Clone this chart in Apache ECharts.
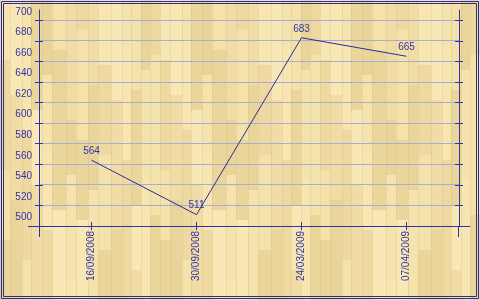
<!DOCTYPE html>
<html>
<head>
<meta charset="utf-8">
<script src="https://cdn.jsdelivr.net/npm/echarts@6/dist/echarts.min.js"></script>
<style>html,body{margin:0;padding:0;background:#f3e0a8;}#c{width:480px;height:300px;}</style>
</head>
<body>
<div id="c"></div>
<script>
const categories = ['16/09/2008', '30/09/2008', '24/03/2009', '07/04/2009'];
const values = [564, 511, 683, 665];
const yTickValues = [520, 540, 560, 580, 600, 620, 640, 660, 680, 700];
const yLabelValues = [500, 520, 540, 560, 580, 600, 620, 640, 660, 680, 700];

const BLUE = '#3232a8';
const GRID = '#a8acd8';
const FONT = 'Liberation Sans';

function makeWood() {
  const c = document.createElement('canvas');
  c.width = 160; c.height = 300;
  const g = c.getContext('2d');
  g.fillStyle = '#f1dea6';
  g.fillRect(0, 0, 160, 300);
  const shades = ['#f7e6b1', '#eedaa1', '#f4e2ab', '#ead59a', '#f8e8b5', '#f0dca4', '#e9d499', '#f5e3ad'];
  const colW = [10, 12, 9, 11, 10, 14, 10, 12, 10, 13, 11, 9, 10, 9, 10];
  const segs = [[0, 60, 170, 240], [0, 95, 200], [0, 40, 130, 260], [0, 110, 185], [0, 75, 150, 230],
                [0, 50, 210], [0, 120, 175, 280], [0, 30, 140, 220], [0, 85, 190], [0, 65, 155, 250],
                [0, 100, 230], [0, 45, 160], [0, 90, 205, 270], [0, 70, 180], [0, 55, 215]];
  let x = 0, k = 0;
  colW.forEach((w, i) => {
    const s = segs[i];
    for (let j = 0; j < s.length; j++) {
      const y0 = s[j], y1 = j + 1 < s.length ? s[j + 1] : 300;
      g.fillStyle = shades[(k++) % shades.length];
      g.fillRect(x, y0, w, y1 - y0);
    }
    g.fillStyle = 'rgba(215,190,130,0.35)';
    g.fillRect(x, 0, 1, 300);
    x += w;
  });
  return c.toDataURL();
}
document.getElementById('c').style.backgroundImage = 'url(' + makeWood() + ')';

const chart = echarts.init(document.getElementById('c'), null, { renderer: 'canvas' });

const L = 39, R = 21, T = 10, B = 74;
const baseY = {
  type: 'value', min: 500, max: 710, interval: 20,
  axisLabel: { show: false },
  splitLine: { show: false },
  axisLine: { show: false }
};

chart.setOption({
  backgroundColor: 'transparent',
  animation: false,
  grid: { left: L, right: R, top: T, bottom: B },
  xAxis: [
    {
      type: 'category', data: categories, position: 'bottom', boundaryGap: true, z: 3,
      axisLine: { show: true, lineStyle: { color: BLUE, width: 1 } },
      axisTick: { show: true, alignWithLabel: true, length: 4, inside: false, lineStyle: { color: BLUE } },
      axisLabel: { rotate: 90, margin: 5, color: BLUE, fontFamily: FONT, fontSize: 10 },
      splitLine: { show: false }
    },
    {
      type: 'category', data: categories, position: 'bottom', boundaryGap: true, z: 3,
      axisLine: { show: false },
      axisTick: { show: true, alignWithLabel: true, length: 4, inside: true, lineStyle: { color: BLUE } },
      axisLabel: { show: false },
      splitLine: { show: false }
    }
  ],
  yAxis: [
    Object.assign({}, baseY, {
      position: 'left', z: 3,
      axisLine: { show: true, lineStyle: { color: BLUE, width: 1 } },
      axisTick: { show: true, length: 4, inside: false, customValues: yTickValues, lineStyle: { color: BLUE } },
      axisLabel: {
        show: true, customValues: yLabelValues, margin: 7,
        formatter: '{a|{value}}',
        rich: { a: { color: BLUE, fontFamily: FONT, fontSize: 10, padding: [0, 0, 17, 0] } }
      }
    }),
    Object.assign({}, baseY, {
      position: 'left', z: 3,
      axisTick: { show: true, length: 4, inside: true, customValues: yTickValues, lineStyle: { color: BLUE } }
    }),
    Object.assign({}, baseY, {
      position: 'right', z: 3,
      axisLine: { show: true, lineStyle: { color: BLUE, width: 1 } },
      axisTick: { show: true, length: 4, inside: false, customValues: yTickValues, lineStyle: { color: BLUE } }
    }),
    Object.assign({}, baseY, {
      position: 'right', z: 3,
      axisTick: { show: true, length: 4, inside: true, customValues: yTickValues, lineStyle: { color: BLUE } }
    })
  ],
  series: [
    {
      // horizontal grid lines at the tick values, placed by the y scale
      type: 'custom', xAxisIndex: 0, yAxisIndex: 0, z: 1, silent: true,
      data: yTickValues.map(v => [0, v]),
      encode: { x: 0, y: 1 },
      renderItem: function (params, api) {
        const cs = params.coordSys;
        const p = api.coord([0, api.value(1)]);
        const y = Math.floor(p[1]) + 0.5;
        return {
          type: 'line',
          shape: { x1: cs.x, y1: y, x2: cs.x + cs.width, y2: y },
          style: { stroke: GRID, lineWidth: 1 }
        };
      }
    },
    {
      type: 'line', data: values, xAxisIndex: 0, yAxisIndex: 0,
      showSymbol: true, symbol: 'circle', symbolSize: 2,
      itemStyle: { color: 'rgba(0,0,0,0)', borderWidth: 0 },
      lineStyle: { color: '#2a2aa0', width: 1 },
      label: { show: true, position: 'top', distance: 3, color: BLUE, fontFamily: FONT, fontSize: 10, opacity: 1 },
      z: 5
    }
  ]
});

// decorative extensions of the axis lines and the double frame
const gx0 = L, gx1 = 480 - R, gy1 = 300 - B;
chart.setOption({
  graphic: [
    { type: 'line', silent: true, z: 10, shape: { x1: gx0 - 11, y1: gy1 + 0.5, x2: gx1 + 11, y2: gy1 + 0.5 }, style: { stroke: BLUE, lineWidth: 1 } },
    { type: 'line', silent: true, z: 10, shape: { x1: gx0 + 0.5, y1: gy1, x2: gx0 + 0.5, y2: gy1 + 11 }, style: { stroke: BLUE, lineWidth: 1 } },
    { type: 'line', silent: true, z: 10, shape: { x1: gx1 - 0.5, y1: gy1, x2: gx1 - 0.5, y2: gy1 + 11 }, style: { stroke: BLUE, lineWidth: 1 } },
    { type: 'rect', silent: true, z: 10, shape: { x: 1.5, y: 1.5, width: 477, height: 297 }, style: { fill: null, stroke: '#2c2c96', lineWidth: 1 } },
    { type: 'rect', silent: true, z: 10, shape: { x: 3.5, y: 3.5, width: 473, height: 293 }, style: { fill: null, stroke: '#2c2c96', lineWidth: 1 } }
  ]
});
</script>
</body>
</html>
